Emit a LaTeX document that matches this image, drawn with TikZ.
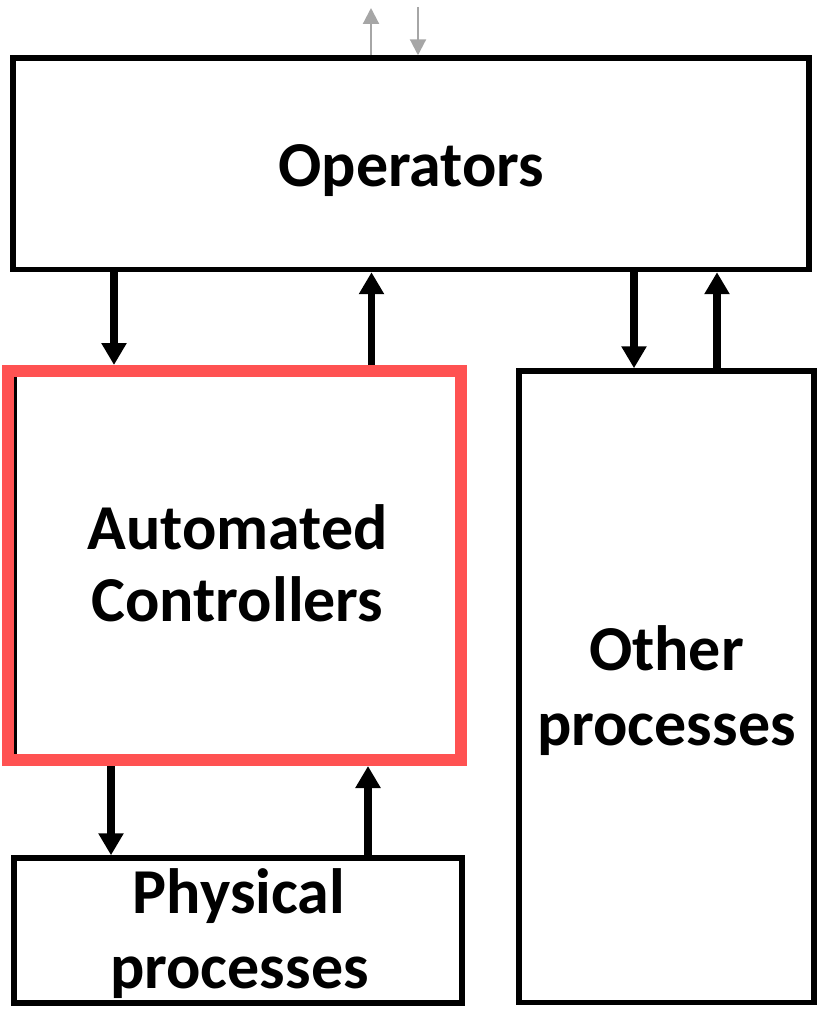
\documentclass[tikz,border=0pt]{standalone}
\usepackage{fontspec}
\setmainfont{Carlito}
\usetikzlibrary{arrows.meta}
\definecolor{ctrlred}{RGB}{255,82,82}
\definecolor{extgrey}{RGB}{166,166,166}
\tikzset{
  block/.style={draw=black, line width=4.1pt, fill=white, inner sep=0pt},
  redblock/.style={draw=ctrlred, line width=9pt, fill=white, inner sep=0pt},
  lbl/.style={font=\fontsize{48}{54}\selectfont\bfseries, inner sep=0pt, anchor=base},
  flow/.style={line width=5.6pt, -{Triangle[width=18pt,length=16.5pt]}},
  extflow/.style={draw=extgrey, line width=1.6pt, -{Triangle[width=12pt,length=12pt]}}
}
\begin{document}
\begin{tikzpicture}[x=0.75pt,y=-0.75pt]
  \useasboundingbox (0,0) rectangle (817,1009);

  % blocks (sizes measured along the stroke centre line)
  \node[block, minimum width=796pt*0.75, minimum height=211.5pt*0.75] (ops) at (411,163.75) {};
  \node[block, minimum width=448pt*0.75, minimum height=145pt*0.75] (phys) at (238,930.5) {};
  \node[block, minimum width=295pt*0.75, minimum height=631.5pt*0.75] (other) at (666.5,686.75) {};
  \node[redblock, minimum width=452.5pt*0.75, minimum height=389pt*0.75] (ac) at (234.25,565.5) {};
  % edge of the plain frame lying under the red outline
  \draw[line width=2.2pt] ([shift={(10.125pt,-9pt)}]ac.north west) -- ([shift={(10.125pt,9pt)}]ac.south west);

  % labels
  \node[lbl] (tops) at (411.5,187) {Operators};
  \node[lbl] (tac1) at (237.5,549) {Automated};
  \node[lbl] (tac2) at (237.5,621) {Controllers};
  \node[lbl] (toth1) at (666.5,670) {Other};
  \node[lbl] (toth2) at (666.5,745) {processes};
  \node[lbl] (tphy1) at (239,913) {Physical};
  \node[lbl] (tphy2) at (239.5,988) {processes};

  % arrow columns
  \coordinate (c1) at (114,0);
  \coordinate (c2) at (371.5,0);
  \coordinate (c3) at (634,0);
  \coordinate (c4) at (717,0);
  \coordinate (c5) at (111,0);
  \coordinate (c6) at (368,0);

  % operators <-> automated controllers
  \draw[flow] (ops.south -| c1) -- (ac.north -| c1);
  \draw[flow] (ac.north -| c2) -- (ops.south -| c2);
  % operators <-> other processes
  \draw[flow] (ops.south -| c3) -- (other.north -| c3);
  \draw[flow] (other.north -| c4) -- (ops.south -| c4);
  % automated controllers <-> physical processes
  \draw[flow] (ac.south -| c5) -- (phys.north -| c5);
  \draw[flow] (phys.north -| c6) -- (ac.south -| c6);

  % links leaving the top of the operators block
  \coordinate (gup) at (371,8);
  \coordinate (gdn) at (418,7);
  \draw[extflow] (ops.north -| gup) -- (gup);
  \draw[extflow] (gdn) -- (ops.north -| gdn);
\end{tikzpicture}
\end{document}
